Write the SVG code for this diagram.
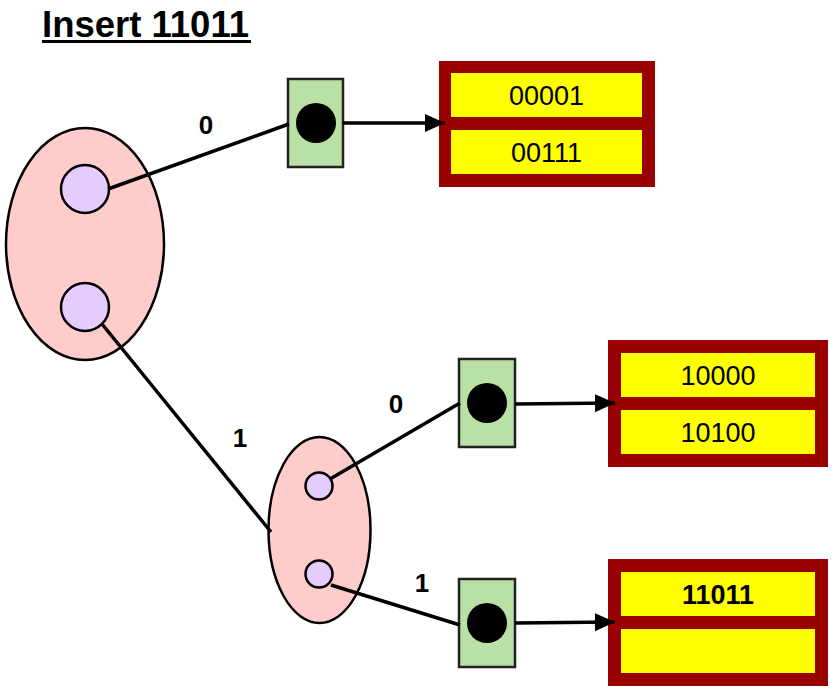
<svg xmlns="http://www.w3.org/2000/svg" width="838" height="691" viewBox="0 0 838 691">
  <style>
    .bucket-set { fill: #FFCCCC; stroke: #000; stroke-width: 2.5; }
    .slot { fill: #E5CCFF; stroke: #000; stroke-width: 2.5; }
    .ptr-box { fill: #B9E0A5; stroke: #222; stroke-width: 2.5; }
    .ptr-dot { fill: #000; }
    .page { fill: #990000; }
    .rec { fill: #FFFF00; }
    .edge { stroke: #000; stroke-width: 3.5; fill: none; }
    .bit { font-family: "Liberation Sans", Arial, sans-serif; font-weight: bold; font-size: 26px; fill: #000; text-anchor: middle; }
    .key { font-family: "Liberation Sans", Arial, sans-serif; font-size: 27px; fill: #000; text-anchor: middle; }
    .key-bold { font-weight: bold; }
    .title { font-family: "Liberation Sans", Arial, sans-serif; font-weight: bold; font-size: 36.5px; fill: #000; }
  </style>
  <defs>
    <marker id="arrow" markerUnits="userSpaceOnUse" markerWidth="22" markerHeight="20" refX="20" refY="9" orient="auto">
      <path d="M0,0 L20,9 L0,18 Z" fill="#000"/>
    </marker>
  </defs>

  <rect width="838" height="691" fill="#fff"/>

  <!-- heading -->
  <g id="title">
    <text class="title" x="42" y="37">Insert 11011</text>
    <rect x="42" y="40" width="209" height="3" fill="#000"/>
  </g>

  <!-- root directory node -->
  <g id="root">
    <ellipse class="bucket-set" cx="85" cy="244" rx="79" ry="116"/>
    <circle class="slot" cx="85" cy="189" r="24"/>
    <circle class="slot" cx="85" cy="307" r="24"/>
  </g>

  <!-- child directory node -->
  <g id="child">
    <ellipse class="bucket-set" cx="319.5" cy="530" rx="51" ry="93"/>
    <circle class="slot" cx="319" cy="486" r="13.5"/>
    <circle class="slot" cx="319" cy="574" r="13.5"/>
  </g>

  <!-- pointer cells -->
  <g id="ptr0">
    <rect class="ptr-box" x="288" y="79" width="55" height="88"/>
    <circle class="ptr-dot" cx="316" cy="123" r="20"/>
  </g>
  <g id="ptr10">
    <rect class="ptr-box" x="459" y="359" width="56" height="88"/>
    <circle class="ptr-dot" cx="487" cy="403" r="20"/>
  </g>
  <g id="ptr11">
    <rect class="ptr-box" x="459" y="579" width="56" height="88"/>
    <circle class="ptr-dot" cx="487" cy="623" r="20"/>
  </g>

  <!-- data pages -->
  <g id="page0">
    <rect class="page" x="439" y="61" width="216" height="126"/>
    <rect class="rec" x="451" y="73" width="191" height="44"/>
    <rect class="rec" x="451" y="130" width="191" height="44"/>
    <text class="key" x="546.5" y="105">00001</text>
    <text class="key" x="546.5" y="162">00111</text>
  </g>
  <g id="page10">
    <rect class="page" x="608" y="340" width="220" height="127"/>
    <rect class="rec" x="621" y="353" width="194" height="44"/>
    <rect class="rec" x="621" y="410" width="194" height="44"/>
    <text class="key" x="718" y="385">10000</text>
    <text class="key" x="718" y="442">10100</text>
  </g>
  <g id="page11">
    <rect class="page" x="608" y="559" width="220" height="127"/>
    <rect class="rec" x="621" y="572" width="194" height="44"/>
    <rect class="rec" x="621" y="629" width="194" height="44"/>
    <text class="key key-bold" x="718" y="604">11011</text>
  </g>

  <!-- connectors -->
  <g id="connectors">
    <line class="edge" x1="108" y1="189" x2="289" y2="124"/>
    <line class="edge" x1="102" y1="324" x2="271" y2="532"/>
    <line class="edge" x1="330" y1="479" x2="460" y2="403"/>
    <line class="edge" x1="331" y1="585" x2="460" y2="625"/>
    <line class="edge" x1="343" y1="123" x2="445" y2="123" marker-end="url(#arrow)"/>
    <line class="edge" x1="515" y1="404" x2="615" y2="403" marker-end="url(#arrow)"/>
    <line class="edge" x1="515" y1="623" x2="615" y2="622" marker-end="url(#arrow)"/>
    <text class="bit" x="206" y="134">0</text>
    <text class="bit" x="240" y="447">1</text>
    <text class="bit" x="396" y="413">0</text>
    <text class="bit" x="422" y="592">1</text>
  </g>
</svg>
